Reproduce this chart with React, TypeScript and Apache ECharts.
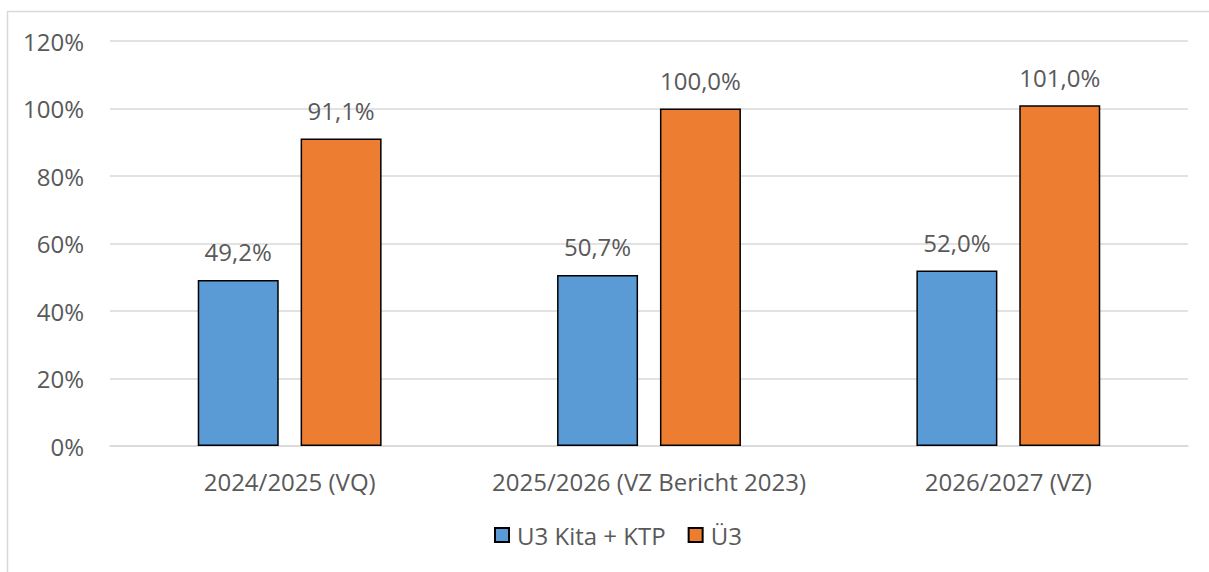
import React, { useEffect, useRef } from "react";
import * as echarts from "echarts";

const categories = ["2024/2025 (VQ)", "2025/2026 (VZ Bericht 2023)", "2026/2027 (VZ)"];
const seriesNames = ["U3 Kita + KTP", "Ü3"];
const u3Values = [49.2, 50.7, 52.0];
const ue3Values = [91.1, 100.0, 101.0];
const colors = ["#5B9BD5", "#ED7D31"];

const fmt = (v: number) => v.toFixed(1).replace(".", ",") + "%";

export default function App() {
  const ref = useRef<HTMLDivElement>(null);
  useEffect(() => {
    if (!ref.current) return;
    const chart = echarts.init(ref.current, undefined, { renderer: "svg" });
    const font = "'Open Sans', 'Noto Sans', sans-serif";
    const fs = 24;
    const labelStyle = {
      show: true,
      position: "top" as const,
      distance: 16,
      color: "#595959",
      fontSize: fs,
      fontFamily: font,
      formatter: (p: any) => fmt(p.value),
    };
    chart.setOption({
      animation: false,
      backgroundColor: "#ffffff",
      graphic: [
        {
          type: "rect",
          shape: { x: 7.5, y: 11.5, width: 1400, height: 800 },
          style: { fill: "none", stroke: "#d9d9d9", lineWidth: 1.5 },
          silent: true,
        },
      ],
      grid: { left: 110, right: 21, top: 41, bottom: 126, containLabel: false },
      legend: {
        bottom: 20,
        left: 489,
        itemWidth: 14,
        itemHeight: 14,
        itemGap: 22,
        icon: "rect",
        textStyle: { color: "#595959", fontSize: fs, fontFamily: font, padding: [0, 0, 0, 3] },
        data: seriesNames,
      },
      xAxis: {
        type: "category",
        data: categories,
        axisLine: { show: true, lineStyle: { color: "#d9d9d9", width: 1.5 } },
        axisTick: { show: false },
        axisLabel: { color: "#595959", fontSize: fs, fontFamily: font, margin: 23, interval: 0 },
      },
      yAxis: {
        type: "value",
        min: 0,
        max: 120,
        interval: 20,
        axisLine: { show: false },
        axisTick: { show: false },
        splitLine: { lineStyle: { color: "#d9d9d9", width: 1.5 } },
        axisLabel: {
          color: "#595959",
          fontSize: fs,
          fontFamily: font,
          margin: 26,
          formatter: (v: number) => v + "%",
        },
      },
      series: [
        {
          name: seriesNames[0],
          type: "bar",
          data: u3Values,
          barWidth: 81,
          barGap: "27%",
          itemStyle: { color: colors[0], borderColor: "#000000", borderWidth: 1.5 },
          label: labelStyle,
        },
        {
          name: seriesNames[1],
          type: "bar",
          data: ue3Values,
          barWidth: 81,
          barGap: "27%",
          itemStyle: { color: colors[1], borderColor: "#000000", borderWidth: 1.5 },
          label: labelStyle,
        },
      ],
    });
    return () => chart.dispose();
  }, []);
  return (
    <div
      ref={ref}
      style={{ position: "absolute", left: 0, top: 0, width: 1209, height: 572 }}
    />
  );
}
